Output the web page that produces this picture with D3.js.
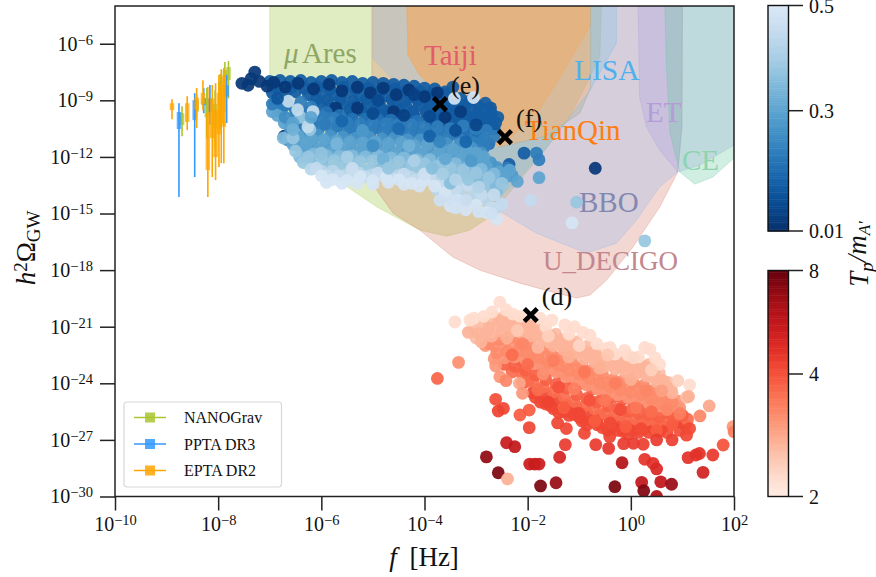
<!DOCTYPE html>
<html lang="en">
  <head>
    <meta charset="UTF-8" />
    <script src="https://d3js.org/d3.v7.min.js"></script>
    <title>GW spectra</title>
    <style>
      html, body { margin: 0; padding: 0; background: white; }
      svg { display: block; }
      text { font-family: "Liberation Serif", serif; fill: #111; }
    </style>
  </head>
  <body>
    <script>
      // all values are log10(f), log10(h2 Omega)
      const xTicks = [-10, -8, -6, -4, -2, 0, 2];
      const yTicks = [-30, -27, -24, -21, -18, -15, -12, -9, -6];

      // detector sensitivity regions
      const regionMuAres = [[-7,-4],[-7,-9],[-6.96,-9],[-6.77,-10.4],[-6.28,-12.33],[-5.64,-13.32],[-4.93,-14.64],[-4.09,-15.88],[-3.57,-16.2],[-3.12,-15.88],[-2.73,-15.17],[-2.48,-14.29],[-2.15,-13.23],[-1.71,-11.8],[-1.18,-9.87],[-0.6,-6.69],[-0.57,-4]];
      const regionDecigo = [[-5.02,-4],[-5.02,-9],[-4.98,-13.55],[-4.61,-14.98],[-4.09,-15.88],[-3.45,-17.31],[-2.93,-18],[-2.15,-18.69],[-1.47,-19.2],[-1.05,-19.48],[-0.79,-19.32],[-0.47,-18.53],[0.04,-16.78],[0.56,-14.66],[0.91,-12.8],[0.99,-10.42],[1,-4]];
      const regionBBO = [[-5,-4],[-5,-6.76],[-4.61,-7.92],[-3.7,-11.1],[-2.48,-14.98],[-1.83,-16.04],[-0.86,-17.1],[-0.28,-16.57],[0.11,-15.35],[0.56,-13.58],[0.91,-12.8],[0.99,-10.42],[1,-4]];
      const regionTaiji = [[-4.34,-4],[-4.32,-6.6],[-4.09,-7.66],[-3.7,-8.72],[-3.12,-10.31],[-2.54,-11.48],[-1.82,-9.68],[-1.38,-7.82],[-0.99,-5.97],[-0.78,-5.01],[-0.78,-4]];
      const regionTianQin = [[-4.34,-4],[-4.32,-6.6],[-4.09,-7.66],[-3.7,-8.72],[-3.12,-10.31],[-2.54,-11.48],[-1.65,-10.9],[-0.99,-9.68],[-0.78,-8.35],[-0.78,-4]];
      const regionLISA = [[-0.78,-4],[-0.28,-4],[-0.28,-5.97],[-0.79,-8.46],[-1.63,-11.48],[-2.15,-13.07],[-2.6,-14.29],[-2.73,-14.02],[-2.93,-11.7],[-2.54,-11.48],[-1.65,-10.9],[-0.99,-9.68],[-0.78,-8.35]];
      const regionET = [[0.14,-4],[0.17,-8.81],[0.3,-10.4],[0.56,-11.64],[0.91,-12.8],[1.34,-12.43],[2,-11.37],[2,-4]];
      const regionCE = [[0.66,-4],[0.69,-7.22],[0.76,-10.74],[0.95,-12.8],[1.24,-13.44],[1.59,-13.07],[2,-12.06],[2,-4]];

      // pulsar timing bars: log f, thin low, thin high, box low, box high
      const nanograv = [[-8.7,-10.9,-9.31,-10.31,-9.68],[-8.417,-10,-8.72,-9.6,-9],[-8.22,-11,-8.35,-9.9,-8.9],[-8.06,-11.53,-8.46,-10.5,-9.2],[-7.96,-10.5,-7.6,-9.2,-8],[-7.87,-9.6,-6.975,-8.2,-7.4],[-7.8,-8.9,-6.92,-7.93,-7.24]];
      const ppta = [[-8.76,-14.13,-9.15,-10.52,-9.62],[-8.455,-13.07,-8.62,-10.05,-8.99],[-8.28,-9.68,-8.35,-9.26,-8.88],[-8.16,-10.3,-8.19,-9.6,-8.9],[-7.835,-10.2,-7.66,-8.8,-8.2]];
      const epta = [[-8.895,-10,-8.94,-9.52,-9.15],[-8.6,-10.58,-8.78,-10.15,-9.15],[-8.417,-10.47,-8.35,-9.5,-8.85],[-8.295,-9.52,-7.93,-9.2,-8.6],[-8.2,-14.13,-8.3,-12.7,-9.68],[-8.115,-13.07,-8.19,-11,-8.9],[-8.05,-13.23,-8.09,-12.01,-9.52],[-7.985,-12.54,-7.66,-10.8,-8.6],[-7.94,-12.33,-7.35,-10.2,-8.2],[-7.89,-12.33,-7.29,-10.4,-7.7]];
      const legendNames = ["NANOGrav", "PPTA DR3", "EPTA DR2"];
      const legendColors = ["#a9c52f", "#3399ff", "#ffa500"];

      // blue points, one array per colour level
      const blueDark2 = [[-6.85,-8.35],[-6.58,-8.3],[-6.33,-8.35],[-6.08,-8.3],[-5.83,-8.4],[-5.58,-8.3],[-5.33,-8.4],[-5.08,-8.35],[-4.83,-8.45],[-4.58,-8.4],[-4.33,-8.5],[-4.08,-8.55],[-3.85,-8.65],[-3.62,-8.7],[-3.35,-9.2],
        [-6.1,-8.95],[-5.88,-9],[-5.63,-8.95],[-5.38,-9.05],[-5.13,-8.95],[-4.88,-9.05],[-4.63,-8.95],[-4.38,-9.05],[-4.13,-9],[-3.9,-9.15],[-3.68,-9.2],[-3.45,-9.25],[-3.2,-9.25],[-2.95,-9.3],[-2.72,-9.4],
        [-5.7,-9.55],[-5.45,-9.5],[-5.22,-9.55],[-4.97,-9.5],[-4.72,-9.6],[-4.47,-9.5],[-4.22,-9.6],[-3.97,-9.6],[-3.72,-9.7],[-3.47,-9.7],[-3.22,-9.75],[-3,-9.8],[-2.78,-9.85],[-2.65,-10.5],
        [-3.85,-10.2],[-3.6,-10.25],[-3.35,-10.2],[-3.1,-10.3],[-2.9,-10.4],[-2.72,-10.4]];
      const blueDark = [[-7,-8],[-6.8,-7.95],[-6.6,-8],[-6.4,-7.95],[-6.2,-8.05],[-6,-8],[-5.8,-7.95],[-5.6,-8.05],[-5.4,-8],[-5.2,-8.1],[-5,-8.05],[-4.8,-8.1],[-4.6,-8.15],[-4.4,-8.2],[-4.2,-8.25],[-4,-8.35],[-3.8,-8.4],[-3.6,-8.55],[-3.45,-8.3],
        [-6.95,-8.6],[-6.7,-8.65],[-6.5,-8.55],[-6.25,-8.7],[-6,-8.6],[-5.75,-8.7],[-5.5,-8.6],[-5.25,-8.75],[-5,-8.65],[-4.75,-8.75],[-4.5,-8.65],[-4.25,-8.8],[-4,-8.75],[-3.8,-8.9],[-3.55,-8.95],[-3.3,-8.9],[-3.1,-9],[-2.82,-9.15],
        [-6.05,-9.2],[-5.85,-9.3],[-5.6,-9.2],[-5.35,-9.3],[-5.1,-9.2],[-4.85,-9.35],[-4.6,-9.2],[-4.35,-9.35],[-4.1,-9.25],[-3.85,-9.4],[-3.6,-9.45],[-3.35,-9.4],[-3.1,-9.5],[-2.9,-9.55],[-2.7,-9.7],[-2.58,-9.9],
        [-5.4,-9.8],[-5.1,-9.85],[-4.8,-9.8],[-4.5,-9.85],[-4.2,-9.85],[-3.95,-9.95],[-3.7,-10],[-3.45,-9.95],[-3.2,-10.05],[-3,-10.05],[-2.8,-10.1],[-2.62,-10.2],[-3.25,-10.7],[-2.95,-10.85],[-2.36,-12.4],[-2.07,-11.8]];
      const blueNavy = [[-7.54,-8.1],[-7.42,-8.2],[-7.36,-7.85],[-7.29,-7.5],[-7.2,-8],[-7.05,-8.25],[-6.92,-8.05],[-6.7,-8.3],[-6.45,-8.1],[-6.15,-8.4],[-5.85,-8.15],[-5.6,-8.5],[-5.3,-8.3],[-5.05,-8.6],[-4.8,-8.35],[-4.55,-8.7],[-4.3,-8.45],[-4,-8.8],[-3.75,-8.6],[-5.72,-9.4],[-5.3,-9.4],[-4.6,-9.6],[-6.72,-10.9],[-3.6,-9.9],[-0.69,-12.6]];
      const blueBlue2 = [[-6.75,-9.35],[-6.52,-9.4],[-6.3,-9.65],[-6.1,-9.7],[-5.9,-9.65],[-5.65,-9.8],[-5.4,-10],[-5.15,-10],[-4.9,-10.05],[-4.65,-10.05],[-4.4,-10.05],[-4.15,-10.1],[-6.45,-10.2],[-6.17,-10.2],[-5.93,-10.25],[-5.68,-10.35],[-5.43,-10.45],[-5.18,-10.5],[-4.93,-10.45],[-4.68,-10.5],[-4.43,-10.55],[-4.18,-10.6],[-3.93,-10.65],[-3.68,-10.7],[-3.43,-10.75],[-3.18,-10.8],[-2.95,-11],[-2.75,-11.3],[-3.2,-11.3]];
      const blueBlue = [[-6.9,-9.1],[-6.65,-9.2],[-6.4,-9.1],[-6.2,-9.35],[-6.78,-9.6],[-6.5,-9.75],[-6.25,-9.9],[-6,-9.9],[-5.75,-9.95],[-5.5,-10.2],[-5.25,-10.25],[-5,-10.2],[-4.75,-10.25],[-4.5,-10.3],[-4.25,-10.3],[-4,-10.4],[-3.75,-10.4],[-3.5,-10.5],[-3.25,-10.35],[-3,-10.5],[-2.8,-10.6],[-2.65,-10.9],[-2.85,-11.1],
        [-6.6,-10.4],[-6.3,-10.5],[-6.05,-10.5],[-5.8,-10.6],[-5.55,-10.7],[-5.3,-10.7],[-5.05,-10.7],[-4.8,-10.75],[-4.55,-10.75],[-4.3,-10.85],[-4.05,-10.85],[-3.8,-10.95],[-3.55,-11],[-3.3,-11.1],[-3.05,-11.25],[-2.85,-11.5],[-1.83,-11.8],[-1.78,-12.15],[-2.4,-12.6]];
      const blueMid2 = [[-6.6,-10.7],[-6.33,-10.8],[-6.08,-10.85],[-5.83,-10.9],[-5.58,-10.95],[-5.33,-11],[-5.08,-10.95],[-4.83,-11.05],[-4.58,-11],[-4.33,-11.1],[-4.08,-11.1],[-3.83,-11.2],[-3.58,-11.3],[-3.33,-11.35],[-3.08,-11.55],[-2.9,-11.8],
        [-6.65,-11.1],[-6.4,-11.5],[-6.18,-11.35],[-5.93,-11.4],[-5.68,-11.45],[-5.43,-11.5],[-5.18,-11.5],[-4.93,-11.5],[-4.68,-11.55],[-4.43,-11.55],[-4.18,-11.65],[-3.93,-11.65],[-3.68,-11.75],[-3.43,-11.85],[-3.18,-11.95],[-2.95,-12.1],[-2.72,-12.3],[-2.6,-12.55],[-2.3,-13],[-2.5,-12.95]];
      const blueMid = [[-6.72,-10.2],[-6.45,-10.9],[-6.2,-11.05],[-5.95,-11.1],[-5.7,-11.15],[-5.45,-11.2],[-5.2,-11.25],[-4.95,-11.2],[-4.7,-11.3],[-4.45,-11.25],[-4.2,-11.4],[-3.95,-11.35],[-3.7,-11.5],[-3.45,-11.6],[-3.2,-11.6],[-3,-11.8],[-2.85,-12],[-6.95,-9.6],[-6.55,-11.35],[-6.3,-11.6],[-6.05,-11.6],[-5.8,-11.7],[-5.55,-11.7],[-5.3,-11.75],[-5.05,-11.7],[-4.8,-11.8],[-4.55,-11.8],[-4.3,-11.9],[-4.05,-11.85],[-3.8,-12],[-3.55,-12.1],[-3.3,-12.1],[-3.05,-12.3],[-2.8,-12.5],[-2.55,-12.8],[-2.35,-12.7],[-2.2,-13.3],[-1.78,-13.1],[-2.45,-13.1]];
      const blueSky2 = [[-6.42,-12],[-6.15,-11.85],[-5.9,-11.95],[-5.65,-11.95],[-5.4,-11.95],[-5.15,-12],[-4.9,-11.95],[-4.65,-12.05],[-4.4,-12.05],[-4.15,-12.15],[-3.9,-12.15],[-3.65,-12.25],[-3.4,-12.35],[-3.15,-12.5],[-2.9,-12.65],[-2.65,-12.9],[-2.95,-13.25],[-3.2,-13],[-3.45,-12.9],[-3.7,-12.8],[-4,-12.6],[-4.35,-12.6],[-4.85,-12.55],[-5.35,-12.45],[-5.98,-12.4],[-6.2,-12.35],[-2.7,-13.35],[-2.6,-13.8],[-6.74,-11]];
      const blueSky = [[-6.55,-11],[-6.5,-11.7],[-6.4,-9.9],[-6.22,-10.55],[-6.25,-12],[-6,-12.1],[-5.75,-12.2],[-5.5,-12.15],[-5.25,-12.25],[-5,-12.2],[-4.75,-12.3],[-4.5,-12.25],[-4.25,-12.4],[-4,-12.35],[-3.75,-12.5],[-3.5,-12.6],[-3.25,-12.7],[-3,-12.85],[-2.75,-13.1],[-2.5,-13.4],[-1.05,-14.4],[-6.35,-12.3],[-5.85,-12.7],[-5.6,-12.6],[-5.1,-12.7],[-4.6,-12.75],[-4.1,-12.85],[-3.6,-13.1],[-3.3,-13.3],[-2.85,-13.6],[0.27,-16.45]];
      const blueLight2 = [[-6.2,-12.65],[-6,-12.75],[-5.78,-12.75],[-5.52,-12.95],[-5.28,-12.85],[-5.02,-12.95],[-4.78,-12.9],[-4.52,-13],[-4.28,-13.05],[-4.03,-13.1],[-3.78,-13.2],[-3.52,-13.45],[-3.28,-13.55],[-3.05,-13.8],[-3.3,-14],[-3.55,-14.2],[-2.8,-14.3],[-3,-14.2],[-2.6,-14.7],[-3.75,-13.75]];
      const blueLight = [[-6.64,-9.05],[-6.46,-9.5],[-6.16,-9.6],[-6.26,-10.4],[-6.1,-12.6],[-5.9,-13],[-5.65,-13],[-5.4,-12.75],[-5.15,-13.05],[-4.9,-12.85],[-4.65,-13.1],[-4.4,-12.9],[-4.15,-13.2],[-3.9,-13],[-3.65,-13.4],[-3.4,-13.7],[-3.15,-13.5],[-2.9,-14],[-2.65,-14],[-1.94,-14.3],[-2.5,-14.5],[-2.7,-14.7]];
      const bluePale = [[-6,-13],[-5.78,-13.2],[-5.5,-13.25],[-5.25,-13.05],[-5,-13.25],[-4.75,-13.1],[-4.5,-13.2],[-4.25,-13.4],[-4,-13.25],[-3.8,-13.55],[-3.6,-13.9],[-3.35,-14.3],[-3.5,-14.6],[-3.2,-14.8],[-3,-14.55],[-2.8,-14.95],[-2.6,-15.3],[-1.14,-15.5],[-3.05,-8.85],[-3.42,-8.9],[-5.9,-13.35],[-5.6,-13.4],[-5.3,-13.4],[-5,-13.45],[-4.7,-13.35],[-4.4,-13.45],[-4.1,-13.55]];
      const blueBands = [blueDark2, blueDark, blueNavy, blueBlue2, blueBlue, blueMid2, blueMid, blueSky2, blueSky, blueLight2, blueLight, bluePale];
      const blueBandT = [0.1, 0.12, 0.03, 0.17, 0.2, 0.26, 0.3, 0.35, 0.38, 0.43, 0.45, 0.49];
      // points that sit on top of the colour levels, log f, log Omega, T
      const blueMixed = [[-6.95,-9.2,0.2],[-6.85,-9.8,0.3],[-6.7,-9.9,0.24],[-6.55,-10.2,0.3],[-6.85,-8.9,0.1],[-6.2,-9.9,0.3],[-5.6,-10.1,0.14],[-5,-9.7,0.07],[-4.4,-9.8,0.05],[-3.9,-9.85,0.07],[-5.2,-10.6,0.27],[-4.5,-10.5,0.15],[-3.9,-10.9,0.13],[-3.4,-10.6,0.08],[-5.7,-11.3,0.34],[-5,-11.4,0.24],[-4.3,-11.4,0.33],[-3.7,-11.2,0.22],[-3.2,-11.2,0.14],[-5.5,-12,0.4],[-4.8,-12.1,0.33],[-4.2,-12.2,0.41],[-3.6,-12.1,0.31],[-3.1,-12.2,0.27],[-5.4,-12.6,0.46],[-4.7,-12.6,0.38],[-4,-12.9,0.47],[-3.5,-13.4,0.36],[-6,-11.8,0.37],[-6.3,-11.3,0.3],[-6.55,-10.55,0.33],[-4.9,-9,0.07],[-4.2,-8.7,0.05],[-3.3,-9.6,0.04],[-3,-10.3,0.06],[-3.85,-12.6,0.36],[-3.65,-12.9,0.4],[-3.4,-13.2,0.42],[-3.15,-13.2,0.38],[-2.95,-13.6,0.42],[-3.45,-14.3,0.47],[-3.2,-14.3,0.46],[-2.95,-14.9,0.48],[-2.7,-15,0.47],[-3.4,-14.7,0.48],[-3.7,-14.3,0.47]];

      // red points, same idea
      const redOrange2 = [[-1.85,-24.75],[-1.65,-25.1],[-1.5,-25.35],[-1.3,-25.5],[-1.1,-25.65],[-0.95,-26],[-0.75,-26],[-0.55,-26.35],[-0.35,-26.3],[-0.15,-26.55],[0.05,-26.5],[0.25,-26.4],[0.45,-26.45],[0.7,-26.6],[0.95,-26.5]];
      const redOrange = [[-2.1,-24],[-1.9,-24.5],[-1.75,-25],[-1.55,-25.2],[-1.4,-25.55],[-1.2,-25.7],[-1,-25.8],[-0.85,-26.2],[-0.65,-26.2],[-0.45,-26.5],[-0.25,-26.5],[-0.05,-26.7],[0.15,-26.6],[0.35,-26.6],[0.55,-26.55],[-1.65,-24.6],[-1.45,-24.85],[-1.25,-25.15],[-1.05,-25.3],[-0.85,-25.6],[-0.6,-25.7],[-0.4,-25.95],[-0.2,-26],[0,-26.2],[0.2,-26.05],[0.42,-26.15],[0.62,-26.3],[0.85,-26.1],[1.05,-26.2],[-1.42,-26.1],[-1.25,-26.4],[-0.9,-26.65]];
      const redCoral2 = [[-2.3,-23.4],[-2.1,-23.55],[-1.9,-23.85],[-1.7,-24.2],[-1.5,-24.45],[-1.3,-24.7],[-1.1,-24.95],[-0.9,-25.2],[-0.7,-25.35],[-0.5,-25.6],[-0.3,-25.7],[-0.1,-25.85],[0.1,-25.9],[0.3,-25.95],[0.5,-26.05],[0.7,-25.9],[0.92,-25.7],[1.1,-25.9],[-2,-23.9],[-1.8,-24.35]];
      const redCoral = [[-2.45,-23],[-2.25,-23.1],[-2.05,-23.3],[-1.85,-23.55],[-1.65,-23.8],[-1.45,-24.05],[-1.25,-24.25],[-1.05,-24.6],[-0.85,-24.8],[-0.65,-25],[-0.45,-25.2],[-0.25,-25.35],[-0.05,-25.5],[0.15,-25.6],[0.35,-25.65],[0.55,-25.8],[0.75,-25.6],[-2.15,-22.75],[-1.95,-22.8],[-1.75,-23],[-1.55,-23.3],[-1.35,-23.5],[-1.15,-23.8],[-0.95,-24],[-0.75,-24.3],[-0.55,-24.5],[-0.35,-24.75],[-0.15,-24.85],[0.05,-25],[0.25,-25.1],[0.45,-25.25],[0.65,-25.15],[0.85,-25.3],[1,-25.7]];
      const redSalmon2 = [[-2.82,-22],[-2.65,-22],[-2.45,-21.95],[-2.25,-21.95],[-2.05,-22.1],[-1.85,-22.3],[-1.65,-22.6],[-1.45,-22.75],[-1.25,-23],[-1.05,-23.25],[-0.85,-23.45],[-0.65,-23.7],[-0.45,-23.95],[-0.25,-24.05],[-0.05,-24.2],[0.15,-24.3],[0.35,-24.55],[0.55,-24.8],[0.75,-24.8],[0.92,-24.95],
        [-2.65,-22.7],[-2.45,-22.65],[-2.25,-22.6],[-2.05,-22.7],[-1.85,-22.95],[-1.65,-23.25],[-1.45,-23.4],[-1.25,-23.65],[-1.05,-23.85],[-0.85,-24.1],[-0.65,-24.3],[-0.45,-24.55],[-0.25,-24.6],[-0.05,-24.75],[0.15,-24.85],[0.35,-25.05],[0.55,-25.2],[0.75,-25.25],[0.95,-25.3]];
      const redSalmon = [[-2.75,-21.9],[-2.55,-21.7],[-2.35,-21.6],[-2.15,-21.8],[-1.95,-21.9],[-1.75,-22.15],[-1.55,-22.4],[-1.35,-22.6],[-1.15,-22.8],[-0.95,-23.1],[-0.75,-23.3],[-0.55,-23.5],[-0.35,-23.8],[-0.15,-23.85],[0.05,-24],[0.25,-24.1],[0.45,-24.35],[0.65,-24.7],[-2.6,-22.4],[-2.4,-22.3],[-2.2,-22.3],[-2,-22.4],[-1.8,-22.6],[-1.6,-22.9],[-1.4,-23.05],[-1.2,-23.3],[-1,-23.5],[-0.8,-23.75],[-0.6,-24],[-0.4,-24.2],[-0.2,-24.35],[0,-24.5],[0.2,-24.6],[0.4,-24.85],[0.6,-25.05],[0.8,-25]];
      const redPeach2 = [[-3.05,-21.05],[-2.85,-20.8],[-2.65,-20.5],[-2.45,-20.45],[-2.25,-20.6],[-2.05,-20.75],[-1.85,-20.9],[-1.65,-21.3],[-1.45,-21.4],[-1.25,-21.65],[-1.05,-21.8],[-0.85,-22.05],[-0.65,-22.25],[-0.45,-22.45],[-0.25,-22.6],[-0.05,-22.7],[0.15,-22.85],[0.35,-23],[0.55,-23.45],[0.72,-23.95],
        [-3,-21.6],[-2.8,-21.3],[-2.6,-21],[-2.4,-21],[-2.2,-21.1],[-2,-21.25],[-1.8,-21.45],[-1.6,-21.75],[-1.4,-21.95],[-1.2,-22.15],[-1,-22.4],[-0.8,-22.6],[-0.6,-22.85],[-0.4,-23],[-0.2,-23.15],[0,-23.25],[0.2,-23.35],[0.4,-23.65],[0.6,-23.95],[0.78,-24.3]];
      const redPeach = [[-3.15,-21.3],[-2.95,-21.35],[-2.75,-21.05],[-2.55,-20.7],[-2.35,-20.75],[-2.15,-20.85],[-1.95,-21],[-1.75,-21.2],[-1.55,-21.5],[-1.35,-21.7],[-1.15,-21.9],[-0.95,-22.2],[-0.75,-22.35],[-0.55,-22.6],[-0.35,-22.75],[-0.15,-22.9],[0.05,-23],[0.25,-23.1],[0.45,-23.4],[0.62,-23.85],[0.8,-24.5],[-2.9,-21.8],[-2.7,-21.5],[-2.5,-21.25],[-2.3,-21.25],[-2.1,-21.35],[-1.9,-21.5],[-1.7,-21.7],[-1.5,-22],[-1.3,-22.2],[-1.1,-22.4],[-0.9,-22.7],[-0.7,-22.85],[-0.5,-23.1],[-0.3,-23.25],[-0.1,-23.4],[0.1,-23.5],[0.3,-23.6],[0.5,-23.9],[0.7,-24.2]];
      const redPale = [[-3.41,-20.75],[-3.12,-20.65],[-3.04,-20.55],[-2.85,-20.45],[-2.69,-20.22],[-2.54,-19.7],[-2.42,-20.1],[-2.29,-20.33],[-2.15,-20.45],[-1.76,-20.55],[-1.53,-20.65],[-1.28,-20.9],[-1.09,-21],[-0.93,-21.3],[-0.79,-21.45],[-0.66,-21.9],[-0.47,-22.15],[-0.4,-22.1],[-0.12,-22.25],[-0.06,-22.5],[0.27,-22.1],[0.37,-22.2],[0.47,-22.65],[0.56,-23],[-1.65,-21],[-1.2,-21.4],[-0.3,-22.45],[0.15,-22.6],[1.14,-24.09]];
      const redBands = [redOrange2, redOrange, redCoral2, redCoral, redSalmon2, redSalmon, redPeach2, redPeach, redPale];
      const redBandT = [4.15, 4.3, 3.7, 3.85, 3.2, 3.35, 2.75, 2.85, 2.3];
      const redMixed = [[-2.4,-21.6,2.9],[-2.1,-21.9,3.4],[-1.8,-22.1,2.8],[-1.5,-22.8,3.5],[-1.2,-22.6,2.9],[-0.9,-23.4,3.6],[-0.6,-23.2,2.9],[-0.3,-24,3.5],[0,-23.8,2.9],[0.3,-24.4,3.4],[0.6,-24.4,3.1],[-2.3,-22.5,3.7],[-2,-23,3.7],[-1.7,-23.5,3.3],[-1.4,-24.2,4],[-1.1,-24.3,3.5],[-0.8,-24.9,4],[-0.5,-24.9,3.6],[-0.2,-25.4,4.1],[0.1,-25.3,3.6],[0.4,-25.5,3.7],[0.7,-25.4,3.4],[0.95,-25.6,3.5],[-1.6,-25,4.4],[-1.3,-25.3,3.9],[-1,-25.6,4.3],[-0.7,-26,3.9],[-0.4,-26.1,4.2],[-0.1,-26.3,3.9],[0.2,-26.4,4.2],[0.5,-26.5,3.9],[0.8,-26.2,3.9],[-2.2,-21.2,2.6],[-1.6,-21.5,2.5],[-1,-22,2.4],[-0.45,-22.5,2.6],[0.05,-22.65,2.4],[0.4,-23.3,2.5]];
      // scattered points below the main cloud, log f, log Omega, T
      const redOutliers = [[-3.34,-22.89,3.3],[-3.75,-23.74,3.8],[-2.62,-23.08,3.2],[-2.54,-23.65,3.2],[-2.42,-23.86,3.4],[-2.16,-24,3],[-2.1,-24.53,3.2],[-2.62,-24.85,4.1],[-2.47,-25.33,4.3],[-2.57,-25.47,4.4],[-1.97,-25.42,3.9],[-2.15,-25.68,3.9],[-1.97,-26.35,4.3],[-2.41,-27.15,5.8],[-2.25,-27.36,6],[-2.8,-27.9,7.2],[-2.57,-28.74,7.6],[-2.39,-29.07,2.9],[-1.96,-28.28,5.7],[-1.86,-28.28,5.8],[-1.78,-28.28,5.7],[-1.38,-27.92,5.4],[-1.27,-27.25,4.6],[-1.75,-29.44,7.6],[-1.45,-29.27,7],[-0.68,-27.25,4.6],[-0.43,-27.45,4.8],[-0.17,-28.21,6.4],[-0.31,-29.48,7.6],[0.27,-28.03,4.8],[0.43,-28.24,5],[0.5,-28.54,5.2],[0.21,-29.25,6],[0.58,-29.22,6],[0.79,-29.35,7],[0.25,-29.69,7.5],[0.5,-30,6.5],[1.11,-27.94,4.9],[1.26,-27.8,4.9],[1.33,-27.72,4.9],[1.59,-27.8,4.7],[1.4,-28.72,5.5],[1.79,-27.27,4],[1.98,-26.3,3.2],[2,-26.57,3.5],[1.52,-25.2,3],[1.34,-25.73,3.4],[0.91,-23.86,2.5],[1.08,-24.74,2.7],[1.12,-24.7,2.9],[0.5,-27,4.6],[0.8,-27,4.5],[1.08,-26.75,4.3],[1.14,-26.4,4.2],[0.24,-27.23,4.5],[0.05,-27.18,4.6],[-0.14,-27.2,4.6],[-0.41,-26.83,4.4]];
      const crosses = [[-3.7,-9.2,"(e)"],[-2.44,-10.95,"(f)"],[-1.94,-20.38,"(d)"]];

      /*---------------------- layout ----------------------*/
      const width = 876, height = 577;
      const plot = { left: 115, right: 734, top: 6, bottom: 496.5 };
      const bar = { left: 768, right: 788.5 };

      const x = d3.scaleLog().domain([1e-10, 1e2]).range([plot.left, plot.right]);
      const y = d3.scaleLog().domain([1e-30, 1e-4]).range([plot.bottom, plot.top]);
      const px = (e) => x(Math.pow(10, e));
      const py = (e) => y(Math.pow(10, e));

      // colour bars have uneven ticks, so piecewise scales
      const blueY = d3.scaleLinear().domain([0.01, 0.3, 0.5]).range([231, 110.7, 5.5]);
      const redY = d3.scaleLinear().domain([2, 4, 8]).range([496.5, 374, 270.5]);
      const blueColor = (t) => d3.interpolateBlues(1 - (0.85 * (231 - blueY(t))) / 225.5);
      const redColor = (t) => d3.interpolateReds(0.05 + (0.95 * (496.5 - redY(t))) / 226);

      const svg = d3.select("body").append("svg").attr("width", width).attr("height", height);
      svg.append("defs").append("clipPath").attr("id", "plot-clip").append("rect")
        .attr("x", plot.left).attr("y", plot.top)
        .attr("width", plot.right - plot.left).attr("height", plot.bottom - plot.top);

      /*---------------------- regions ---------------------*/
      const regionLine = d3.line().x((d) => px(d[0])).y((d) => py(d[1]));
      const regions = [
        [regionMuAres, "#a6c94e", 0.35],
        [regionDecigo, "#d77a69", 0.3],
        [regionBBO, "#96b9f0", 0.3],
        [regionTaiji, "#fd9f4a", 0.3],
        [regionTianQin, "#ffa54b", 0.3],
        [regionLISA, "#6ac0f0", 0.25],
        [regionET, "#ad9fe3", 0.3],
        [regionCE, "#64c8a0", 0.3],
      ];
      const regionGroup = svg.append("g").attr("clip-path", "url(#plot-clip)");
      regionGroup.selectAll("path").data(regions).enter().append("path")
        .attr("d", (d) => regionLine(d[0]) + "Z")
        .attr("fill", (d) => d[1])
        .attr("fill-opacity", (d) => d[2])
        .attr("stroke", (d) => d[1])
        .attr("stroke-opacity", 0.3)
        .attr("stroke-width", 1);

      const labels = [
        ["Ares", 302, 63, "#8fa662", 29],
        ["Taiji", 424, 65, "#e25c6c", 29],
        ["LISA", 574, 80, "#4fb0ee", 29.5],
        ["TianQin", 525, 140, "#ff7d10", 29],
        ["ET", 646, 122, "#b49cd8", 29],
        ["CE", 682, 170, "#8ed4b0", 29],
        ["BBO", 579, 212, "#8288b0", 29],
        ["U_DECIGO", 543, 270, "#c4868e", 27],
      ];
      svg.selectAll("text.region").data(labels).enter().append("text")
        .attr("class", "region")
        .attr("x", (d) => d[1]).attr("y", (d) => d[2])
        .style("fill", (d) => d[3]).style("font-size", (d) => d[4] + "px")
        .text((d) => d[0]);
      svg.append("text").attr("x", 284).attr("y", 63)
        .style("fill", "#8fa662").style("font-size", "29px").style("font-style", "italic").text("μ");

      /*---------------------- PTA bars --------------------*/
      const pta = svg.append("g");
      [[nanograv, 0], [ppta, 1], [epta, 2]].forEach(([rows, i]) => {
        const g = pta.append("g");
        g.selectAll("line.thin").data(rows).enter().append("line")
          .attr("x1", (d) => px(d[0])).attr("x2", (d) => px(d[0]))
          .attr("y1", (d) => py(d[1])).attr("y2", (d) => py(d[2]))
          .attr("stroke", legendColors[i]).attr("stroke-width", 1.6);
        g.selectAll("line.box").data(rows).enter().append("line")
          .attr("x1", (d) => px(d[0])).attr("x2", (d) => px(d[0]))
          .attr("y1", (d) => py(d[3])).attr("y2", (d) => py(d[4]))
          .attr("stroke", legendColors[i]).attr("stroke-opacity", 0.75).attr("stroke-width", 4.5);
      });

      /*---------------------- scatter ---------------------*/
      const dots = svg.append("g").attr("clip-path", "url(#plot-clip)").attr("fill-opacity", 0.93);
      function drawDots(pts, fill) {
        dots.append("g").selectAll("circle").data(pts).enter().append("circle")
          .attr("cx", (d) => px(d[0])).attr("cy", (d) => py(d[1])).attr("r", 6.4)
          .attr("fill", fill);
      }
      blueBands.forEach((pts, i) => drawDots(pts, blueColor(blueBandT[i])));
      drawDots(blueMixed, (d) => blueColor(d[2]));
      redBands.forEach((pts, i) => drawDots(pts, redColor(redBandT[i])));
      drawDots(redMixed, (d) => redColor(d[2]));
      drawDots(redOutliers, (d) => redColor(d[2]));

      const cross = d3.symbol().type(d3.symbolX).size(110);
      svg.selectAll("path.cross").data(crosses).enter().append("path")
        .attr("class", "cross")
        .attr("d", cross)
        .attr("transform", (d) => `translate(${px(d[0])},${py(d[1])})`)
        .attr("fill", "none").attr("stroke", "black").attr("stroke-width", 4.6);
      svg.selectAll("text.mark").data(crosses).enter().append("text")
        .attr("class", "mark")
        .attr("x", (d) => px(d[0]) + 11).attr("y", (d) => py(d[1]) - 10)
        .style("font-size", "26px")
        .text((d) => d[2]);

      /*---------------------- axes ------------------------*/
      function powerLabel(sel) {
        sel.each(function (d) {
          const e = Math.round(Math.log10(d));
          const t = d3.select(this).text("").style("font-size", "20px");
          t.append("tspan").text("10");
          t.append("tspan").attr("dy", "-0.42em").style("font-size", "14.5px")
            .text(e < 0 ? "−" + Math.abs(e) : e);
        });
      }
      const xAxis = svg.append("g").attr("transform", `translate(0,${plot.bottom})`)
        .call(d3.axisBottom(x).tickValues(xTicks.map((e) => Math.pow(10, e))).tickSize(14).tickPadding(6));
      xAxis.selectAll("text").call(powerLabel);
      const yAxis = svg.append("g").attr("transform", `translate(${plot.left},0)`)
        .call(d3.axisLeft(y).tickValues(yTicks.map((e) => Math.pow(10, e))).tickSize(15).tickPadding(7));
      yAxis.selectAll("text").call(powerLabel);
      svg.selectAll(".domain").remove();
      svg.selectAll(".tick line").attr("stroke", "#222").attr("stroke-width", 1.5);
      svg.append("rect").attr("x", plot.left).attr("y", plot.top)
        .attr("width", plot.right - plot.left).attr("height", plot.bottom - plot.top)
        .attr("fill", "none").attr("stroke", "#222").attr("stroke-width", 1.5);

      const xLabel = svg.append("text").attr("x", 424).attr("y", 566).attr("text-anchor", "middle").style("font-size", "27px");
      xLabel.append("tspan").style("font-style", "italic").text("f");
      xLabel.append("tspan").attr("dx", 6).text(" [Hz]");
      const yLabel = svg.append("text").attr("transform", "translate(35,248) rotate(-90)").attr("text-anchor", "middle").style("font-size", "27px");
      yLabel.append("tspan").style("font-style", "italic").text("h");
      yLabel.append("tspan").attr("dy", "-0.4em").style("font-size", "19px").text("2");
      yLabel.append("tspan").attr("dy", "0.28em").text("Ω");
      yLabel.append("tspan").attr("dy", "0.25em").style("font-size", "19px").text("GW");

      /*---------------------- legend ----------------------*/
      const legend = svg.append("g");
      legend.append("rect").attr("x", 124).attr("y", 402).attr("width", 157.5).attr("height", 85)
        .attr("rx", 3).attr("fill", "white").attr("fill-opacity", 0.85).attr("stroke", "#d8d8d8").attr("stroke-width", 1.2);
      const rows = legend.selectAll("g").data(legendNames).enter().append("g")
        .attr("transform", (d, i) => `translate(0,${417.5 + i * 26.5})`);
      rows.append("line").attr("x1", 134).attr("x2", 166)
        .attr("stroke", (d, i) => legendColors[i]).attr("stroke-width", 1.5);
      rows.append("rect").attr("x", 145).attr("y", -5).attr("width", 10).attr("height", 10)
        .attr("fill", (d, i) => legendColors[i]).attr("fill-opacity", 0.85);
      rows.append("text").attr("x", 184).attr("y", 5.5).style("font-size", "16px").text((d) => d);

      /*---------------------- colour bars -----------------*/
      function colorBar(scale, color, ticks, tickText) {
        const [lo, hi] = [scale.domain()[0], scale.domain()[2]];
        const g = svg.append("g");
        const yLo = scale(lo), yHi = scale(hi);
        const steps = d3.range(0, 128);
        const inv = d3.scaleLinear().domain([0, 128]).range([yLo, yHi]);
        g.selectAll("rect").data(steps).enter().append("rect")
          .attr("x", bar.left).attr("width", bar.right - bar.left)
          .attr("y", (i) => inv(i + 1)).attr("height", (yLo - yHi) / 128 + 0.5)
          .attr("fill", (i) => color(scale.invert(inv(i + 0.5))));
        g.append("rect").attr("x", bar.left).attr("y", yHi).attr("width", bar.right - bar.left).attr("height", yLo - yHi)
          .attr("fill", "none").attr("stroke", "#111").attr("stroke-width", 1.4);
        ticks.forEach((t, i) => {
          g.append("line").attr("x1", bar.right).attr("x2", 803).attr("y1", scale(t)).attr("y2", scale(t))
            .attr("stroke", "#222").attr("stroke-width", 1.5);
          g.append("text").attr("x", 809).attr("y", scale(t) + 7).style("font-size", "20px").text(tickText[i]);
        });
      }
      colorBar(blueY, blueColor, [0.01, 0.3, 0.5], ["0.01", "0.3", "0.5"]);
      colorBar(redY, redColor, [2, 4, 8], ["2", "4", "8"]);

      const cbLabel = svg.append("text").attr("transform", "translate(868,254) rotate(-90)").attr("text-anchor", "middle")
        .style("font-size", "27px").style("font-style", "italic");
      cbLabel.append("tspan").text("T");
      cbLabel.append("tspan").attr("dy", "0.25em").style("font-size", "19px").text("p");
      cbLabel.append("tspan").attr("dy", "-0.25em").text("/m");
      cbLabel.append("tspan").attr("dy", "0.25em").style("font-size", "17px").text("A′");
    </script>
  </body>
</html>
